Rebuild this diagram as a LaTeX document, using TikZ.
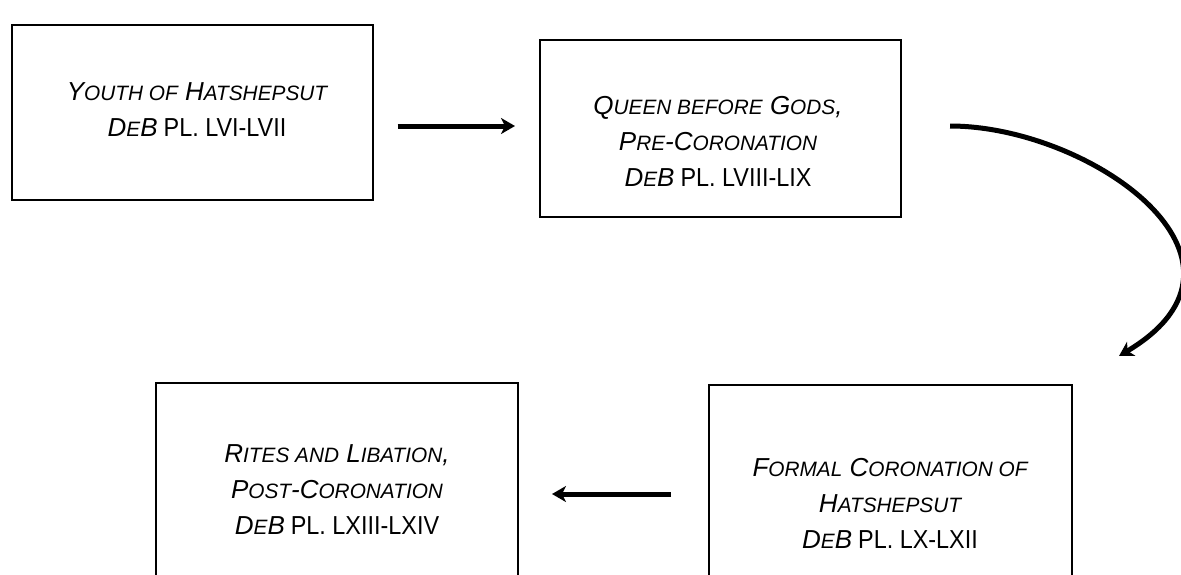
\documentclass[tikz,border=0pt]{standalone}
\usepackage{fontspec}
\setmainfont{Liberation Sans}
\newfontfamily\platefont[FakeStretch=0.9]{Liberation Sans}
\usetikzlibrary{arrows.meta}
\newcommand\smc[1]{{\fontsize{10.4pt}{18pt}\selectfont #1}}
\newcommand\deb[1]{D\smc{E}B{\upshape\platefont\kern3pt #1}}
\tikzset{
  panel/.style={draw, line width=1pt, minimum width=180.5pt},
  caption/.style={align=center, font=\fontsize{13pt}{18pt}\selectfont\itshape},
  flow/.style={line width=2.5pt, -{Stealth[length=7pt, width=8pt, inset=2pt]}},
}
\begin{document}
\begin{tikzpicture}[x=0.5pt, y=-0.5pt]
    \useasboundingbox (0,0) rectangle (1181,574);
    \clip (0,0) rectangle (1181,574);
    % boxes
    \node[panel, minimum height=87.5pt] (youth) at (192.5,112.5) {};
    \node[panel, minimum height=88.5pt] (queen) at (720.5,128.5) {};
    \node[panel, minimum width=181pt, minimum height=115pt] (rites) at (337,498) {};
    \node[panel, minimum width=181.5pt, minimum height=115pt] (coronation) at (890.5,500) {};
    % texts
    \node[caption] (youth-t) at (197,110) {Y\smc{OUTH OF} H\smc{ATSHEPSUT}\\\deb{PL. LVI-LVII}};
    \node[caption] (queen-t) at (718,141) {Q\smc{UEEN BEFORE} G\smc{ODS},\\P\smc{RE}-C\smc{ORONATION}\\\deb{PL. LVIII-LIX}};
    \node[caption] (rites-t) at (337,490) {R\smc{ITES AND} L\smc{IBATION},\\P\smc{OST}-C\smc{ORONATION}\\\deb{PL. LXIII-LXIV}};
    \node[caption] (coronation-t) at (890,503) {F\smc{ORMAL} C\smc{ORONATION OF}\\H\smc{ATSHEPSUT}\\\deb{PL. LX-LXII}};
    % arrows
    \draw[flow] ([xshift=11.85pt, yshift=-6.75pt]youth.east) -- ([xshift=-12pt, yshift=1.25pt]queen.west);
    \draw[flow] ([xshift=24pt, yshift=1.25pt]queen.east) .. controls (1090,126) and (1280,260) .. ([xshift=23pt, yshift=14pt]coronation.north east);
    \draw[flow] ([xshift=-18.5pt, yshift=2pt]coronation.west |- rites.east) -- ([xshift=16.5pt, yshift=2pt]rites.east);
\end{tikzpicture}
\end{document}
